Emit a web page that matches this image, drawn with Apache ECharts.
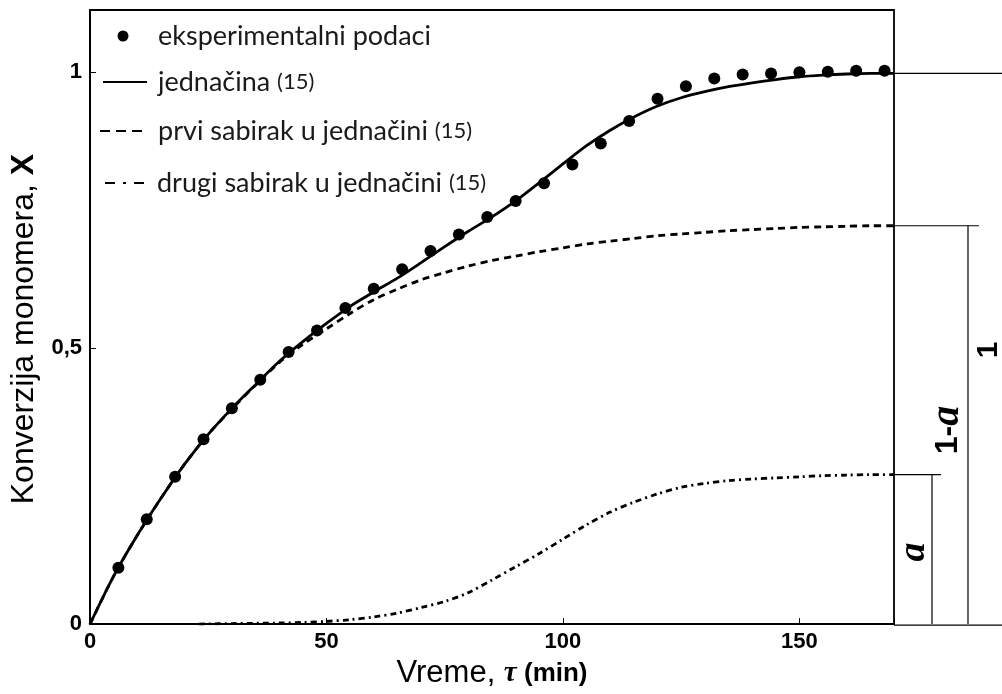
<!DOCTYPE html>
<html>
<head>
<meta charset="utf-8">
<script src="https://cdn.jsdelivr.net/npm/echarts@6/dist/echarts.min.js"></script>
<style>html,body{margin:0;padding:0;background:#fff;}#c{width:1002px;height:694px;}</style>
</head>
<body>
<div id="c"></div>
<script>
// ---- data ----
const pointTimes = [6,12,18,24,30,36,42,48,54,60,66,72,78,84,90,96,102,108,114,120,126,132,138,144,150,156,162,168];
const pointValues = [0.102,0.190,0.267,0.335,0.391,0.443,0.493,0.532,0.573,0.608,0.643,0.676,0.706,0.738,0.767,0.799,0.833,0.871,0.912,0.952,0.975,0.989,0.996,0.998,1.000,1.001,1.003,1.003];

const curveTimes = [0,5,10,15,20,25,30,35,40,45,50,55,60,65,70,75,80,85,90,95,100,105,110,115,120,125,130,135,140,145,150,155,160,165,170];
const totalValues = [0,0.087,0.161,0.228,0.290,0.344,0.391,0.434,0.476,0.512,0.545,0.576,0.602,0.627,0.655,0.684,0.712,0.738,0.767,0.800,0.834,0.867,0.895,0.919,0.939,0.954,0.965,0.974,0.981,0.987,0.992,0.995,0.997,0.998,0.998];
const firstTermValues = [0,0.087,0.161,0.228,0.290,0.344,0.390,0.433,0.474,0.507,0.535,0.563,0.588,0.607,0.624,0.637,0.649,0.659,0.667,0.675,0.682,0.689,0.694,0.699,0.704,0.707,0.710,0.713,0.715,0.717,0.719,0.720,0.721,0.722,0.722];

const secondTimes = [23,30,40,45,50,55,60,65,70,75,80,85,90,95,100,105,110,115,120,125,130,135,140,145,150,155,160,165,170];
const secondTermValues = [0,0.001,0.002,0.003,0.005,0.008,0.013,0.020,0.030,0.041,0.057,0.080,0.104,0.128,0.154,0.180,0.203,0.221,0.236,0.248,0.255,0.260,0.263,0.265,0.267,0.269,0.270,0.271,0.271];

const xTickLabels = {0:'0',50:'50',100:'100',150:'150'};
const yTickLabels = {0:'0',0.5:'0,5',1:'1'};
const legendNames = ['eksperimentalni podaci','jednačina','prvi sabirak u jednačini','drugi sabirak u jednačini'];
const eqRef = '(15)';

const zip = (xs, ys) => xs.map((x, i) => [x, ys[i]]);

const chart = echarts.init(document.getElementById('c'), null, {renderer: 'canvas'});
const LEG_FONT = 'Lato, "Open Sans", sans-serif';
const SANS = '"Liberation Sans", Arial, sans-serif';
const option = {
  animation: false,
  backgroundColor: '#fff',
  grid: {left: 90, right: 108, top: 10, bottom: 64, show: true, borderColor: '#000', borderWidth: 1.8, backgroundColor: 'transparent'},
  xAxis: {
    type: 'value', min: 0, max: 170, interval: 50,
    splitLine: {show: false},
    axisLine: {onZero: false, lineStyle: {color: '#000', width: 2}},
    axisTick: {inside: true, length: 6, lineStyle: {color: '#000', width: 1}},
    axisLabel: {
      color: '#000', fontWeight: 'bold', fontSize: 22, margin: 7,
      fontFamily: SANS,
      formatter: v => xTickLabels[v] !== undefined ? xTickLabels[v] : ''
    },
    name: '{n|Vreme, }{t|τ}{m| (min)}', nameLocation: 'middle', nameGap: 25,
    nameTextStyle: {
      rich: {
        n: {fontSize: 31, color: '#000', fontFamily: SANS},
        t: {fontSize: 29, color: '#000', fontStyle: 'italic', fontWeight: 'bold', fontFamily: '"Liberation Serif", serif'},
        m: {fontSize: 26, color: '#000', fontWeight: 'bold', fontFamily: SANS}
      }
    }
  },
  yAxis: {
    type: 'value', min: 0, max: 1.113, interval: 0.5,
    splitLine: {show: false},
    axisLine: {onZero: false, lineStyle: {color: '#000', width: 2}},
    axisTick: {inside: true, length: 6, lineStyle: {color: '#000', width: 1}},
    axisLabel: {
      color: '#000', fontWeight: 'bold', fontSize: 22, margin: 8,
      fontFamily: SANS,
      formatter: v => yTickLabels[v] !== undefined ? yTickLabels[v] : ''
    },
    name: '{n|Konverzija monomera, }{x|X}', nameLocation: 'middle', nameGap: 47, nameRotate: 90,
    nameTextStyle: {
      padding: [0, 24, 0, 0],
      rich: {
        n: {fontSize: 32, color: '#000', fontFamily: SANS},
        x: {fontSize: 32, color: '#000', fontWeight: 'bold', fontFamily: SANS}
      }
    }
  },
  series: [
    {name: legendNames[2], type: 'line', data: zip(curveTimes, firstTermValues), showSymbol: false, smooth: 0.3,
     lineStyle: {color: '#000', width: 2.8, type: [7, 5]}, z: 2},
    {name: legendNames[3], type: 'line', data: zip(secondTimes, secondTermValues), showSymbol: false, smooth: 0.3,
     lineStyle: {color: '#000', width: 2.8, type: [6, 4, 2, 4]}, z: 2},
    {name: legendNames[1], type: 'line', data: zip(curveTimes, totalValues), showSymbol: false, smooth: 0.3,
     lineStyle: {color: '#000', width: 2.8}, z: 3},
    {name: legendNames[0], type: 'scatter', data: zip(pointTimes, pointValues), symbol: 'circle', symbolSize: 12,
     itemStyle: {color: '#000', opacity: 1}, z: 4}
  ]
};
chart.setOption(option);

// annotations placed through the axis scales
const px = (x, y) => chart.convertToPixel({gridIndex: 0}, [x, y]);
const xEnd = 170;
const border = px(xEnd, 0)[0];
const yBottom = px(0, 0)[1];
const yTotal = px(xEnd, totalValues[totalValues.length - 1])[1];
const yFirst = px(xEnd, firstTermValues[firstTermValues.length - 1])[1];
const ySecond = px(xEnd, secondTermValues[secondTermValues.length - 1])[1];
const ls = {stroke: '#000', lineWidth: 1.2};
const line = (x1, y1, x2, y2) => ({type: 'line', shape: {x1, y1, x2, y2}, style: ls, silent: true});
const vA = 932, v1A = 968;

const legendY = [36, 82, 131, 183];
const legX = 158;
const graphics = [
  line(border, yTotal, 1002, yTotal),
  line(border, yFirst, 979, yFirst),
  line(v1A, yFirst, v1A, yBottom),
  line(border, ySecond, 941, ySecond),
  line(vA, ySecond, vA, yBottom),
  line(border, yBottom + 1, 1002, yBottom + 1),
  {type: 'text', x: 914, y: 552, rotation: Math.PI / 2,
   style: {text: 'a', fontSize: 38, fontStyle: 'italic', fontWeight: 'bold', fontFamily: '"Liberation Serif", serif', fill: '#000', align: 'center', verticalAlign: 'middle'}},
  {type: 'text', x: 948, y: 430, rotation: Math.PI / 2,
   style: {text: '{o|1-}{a|a}', fill: '#000', align: 'center', verticalAlign: 'middle',
     rich: {o: {fontSize: 32, fontWeight: 'bold', fontFamily: SANS, fill: '#000'},
            a: {fontSize: 40, fontStyle: 'italic', fontWeight: 'bold', fontFamily: '"Liberation Serif", serif', fill: '#000'}}}},
  {type: 'text', x: 989, y: 350, rotation: Math.PI / 2,
   style: {text: '1', fontSize: 30, fontWeight: 'bold', fontFamily: SANS, fill: '#000', align: 'center', verticalAlign: 'middle'}},
  // legend
  {type: 'circle', shape: {cx: 123, cy: legendY[0], r: 5.5}, style: {fill: '#000'}},
  {type: 'line', shape: {x1: 103, y1: legendY[1], x2: 147, y2: legendY[1]}, style: {stroke: '#000', lineWidth: 2}},
  {type: 'line', shape: {x1: 100, y1: legendY[2], x2: 144, y2: legendY[2]}, style: {stroke: '#000', lineWidth: 2, lineDash: [10, 6]}},
  {type: 'line', shape: {x1: 105, y1: legendY[3], x2: 146, y2: legendY[3]}, style: {stroke: '#000', lineWidth: 2, lineDash: [10, 8, 3, 8]}},
];
legendNames.forEach((n, i) => {
  graphics.push({type: 'text', x: legX - (i === 3 ? 1 : 0), y: legendY[i],
    style: {text: i === 0 ? n : '{m|' + n + ' }{r|' + eqRef + '}', fontSize: 27, fontFamily: LEG_FONT, fill: '#1a1a1a', verticalAlign: 'middle',
      rich: {m: {fontSize: 27, fontFamily: LEG_FONT, fill: '#1a1a1a'}, r: {fontSize: 22, fontFamily: LEG_FONT, fill: '#1a1a1a'}}}});
});
chart.setOption({graphic: graphics});
</script>
</body>
</html>
